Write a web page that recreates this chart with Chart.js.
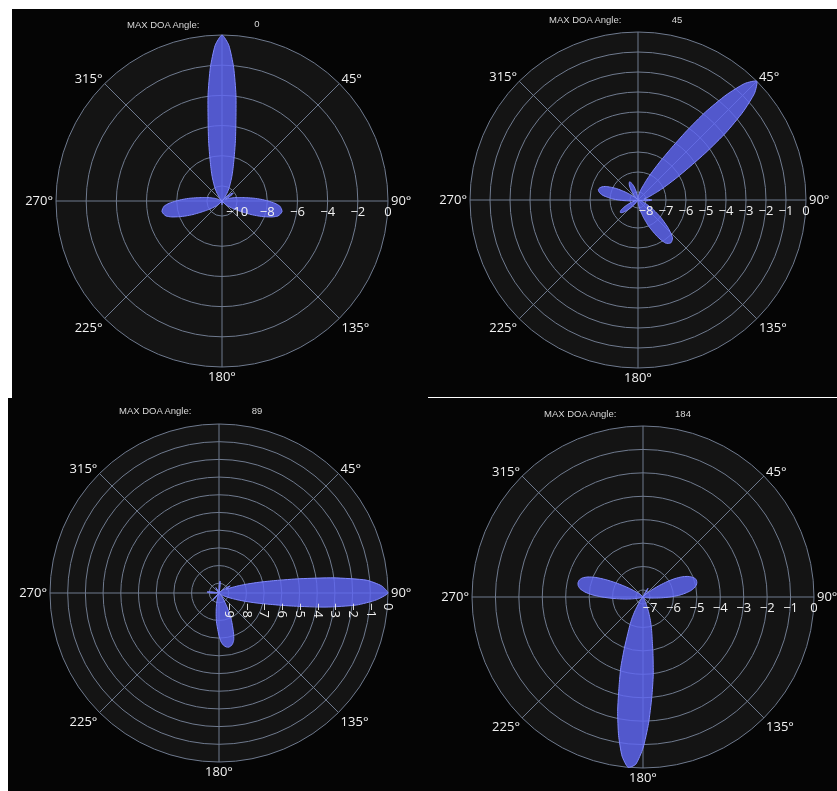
<!DOCTYPE html>
<html lang="en">
<head>
<meta charset="UTF-8" />
<title>MAX DOA Angle – beam patterns</title>
<script src="https://cdn.jsdelivr.net/npm/chart.js"></script>
<style>
  body { margin: 0; background: #fff; }
  #sheet { position: relative; width: 837px; height: 791px; overflow: hidden; background: #fff; }
  .panel { position: absolute; background: #050505; }
  .panel canvas { position: absolute; left: 0; top: 0; }
  .title { position: absolute; font: 9.5px "Liberation Sans", Arial, sans-serif; color: #d8d8d8; white-space: nowrap; line-height: 12px; }
  .value { transform: translateX(-50%); }
  #seam { position: absolute; left: 429px; top: 397px; width: 408px; height: 1px; background: #fff; }
</style>
</head>
<body>
<div id="sheet">
  <div class="panel" style="left:12px;top:9px;width:416px;height:389px"><canvas id="c1"></canvas></div>
  <div class="panel" style="left:428px;top:9px;width:409px;height:388px"><canvas id="c2"></canvas></div>
  <div class="panel" style="left:8px;top:398px;width:421px;height:393px"><canvas id="c3"></canvas></div>
  <div class="panel" style="left:429px;top:398px;width:408px;height:393px"><canvas id="c4"></canvas></div>
  <div id="seam"></div>

  <div class="title" style="left:127px;top:19px">MAX DOA Angle:</div>
  <div class="title value" id="v1" style="left:257px;top:18px"></div>
  <div class="title" style="left:549px;top:14px">MAX DOA Angle:</div>
  <div class="title value" id="v2" style="left:677px;top:14px"></div>
  <div class="title" style="left:119px;top:405px">MAX DOA Angle:</div>
  <div class="title value" id="v3" style="left:257px;top:405px"></div>
  <div class="title" style="left:544px;top:408px">MAX DOA Angle:</div>
  <div class="title value" id="v4" style="left:683px;top:408px"></div>
</div>

<script>
// angular categories, 2.5 degree steps (0 = top, clockwise)
const ANGLES = Array.from({length: 144}, (_, i) => i * 2.5);
const ANGLE_LABELS = [45, 90, 135, 180, 225, 270, 315];

const DOA = ['0', '45', '89', '184'];
const R_MIN = [-11, -8.4, -9.55, -7.3];
const TICKS_1 = [-10, -8, -6, -4, -2, 0];
const TICKS_2 = [-8, -7, -6, -5, -4, -3, -2, -1, 0];
const TICKS_3 = [-9, -8, -7, -6, -5, -4, -3, -2, -1, 0];
const TICKS_4 = [-7, -6, -5, -4, -3, -2, -1, 0];

// beam pattern (dB), one row = 30 degrees
const P1_DB = [
  0, -0.67, -2.13, -3.91, -5.7, -6.89, -7.82, -8.48, -8.95, -9.34, -9.68, -9.94,
  -10.17, -10.4, -10.6, -10.8, -10.95, -11, -10.9, -10.6, -10.35, -10.15, -10.1, -10.2,
  -10.45, -10.7, -10.74, -10.6, -10.47, -10.34, -10.14, -9.94, -9.68, -9.34, -8.88, -8.42,
  -7.95, -7.49, -7.16, -7.03, -6.96, -7.03, -7.16, -7.49, -7.95, -8.42, -8.88, -9.34,
  -9.68, -9.94, -10.14, -10.34, -10.47, -10.6, -10.74, -10.9, -11, -11, -11, -11,
  -11, -11, -11, -11, -10.9, -11, -11, -11, -11, -11, -11, -10.9,
  -10.75, -10.9, -11, -11, -11, -11, -11, -11, -10.9, -11, -11, -11,
  -11, -11, -11, -11, -11, -11, -10.74, -10.6, -10.47, -10.34, -10.14, -9.94,
  -9.68, -9.34, -8.88, -8.42, -7.95, -7.49, -7.16, -7.03, -6.96, -7.03, -7.16, -7.49,
  -7.95, -8.42, -8.88, -9.34, -9.68, -9.94, -10.14, -10.34, -10.47, -10.6, -10.74, -10.9,
  -11, -11, -11, -11, -10.85, -11, -11, -11, -11, -10.8, -10.6, -10.4,
  -10.17, -9.94, -9.68, -9.34, -8.95, -8.48, -7.82, -6.89, -5.7, -3.91, -2.13, -0.67
];
const P2_DB = [
  -8.4, -8.32, -8.25, -8.18, -8.1, -8.0, -7.9, -7.78, -7.63, -7.4, -7.1, -6.7,
  -6.15, -5.4, -4.25, -2.85, -1.55, -0.5, 0, -0.5, -1.55, -2.85, -4.25, -5.4,
  -6.15, -6.7, -7.1, -7.4, -7.63, -7.78, -7.9, -8.0, -8.1, -8.1, -7.95, -7.8,
  -7.7, -7.8, -7.95, -8.1, -8.25, -8.4, -8.33, -8.25, -8.17, -8.08, -7.98, -7.85,
  -7.7, -7.48, -7.25, -6.95, -6.7, -6.38, -6.1, -5.85, -5.75, -5.7, -5.75, -5.85,
  -6.1, -6.38, -6.7, -6.95, -7.25, -7.48, -7.7, -7.85, -7.98, -8.08, -8.17, -8.25,
  -8.33, -8.4, -8.4, -8.4, -8.4, -8.4, -8.4, -8.4, -8.4, -8.4, -8.4, -8.4,
  -8.4, -8.4, -8.32, -8.2, -8.05, -7.9, -7.75, -7.6, -7.45, -7.36, -7.32, -7.36,
  -7.45, -7.6, -7.75, -7.9, -8.05, -8.2, -8.32, -8.3, -8.2, -8.08, -7.93, -7.7,
  -7.43, -7.13, -6.88, -6.63, -6.48, -6.39, -6.35, -6.39, -6.48, -6.63, -6.88, -7.13,
  -7.43, -7.7, -7.93, -8.08, -8.2, -8.3, -8.32, -8.22, -8.1, -7.95, -7.8, -7.65,
  -7.53, -7.45, -7.4, -7.45, -7.53, -7.65, -7.8, -7.95, -8.1, -8.22, -8.32, -8.38
];
const P3_DB = [
  -9.3, -9.0, -8.87, -9.0, -9.3, -9.5, -9.55, -9.55, -9.55, -9.55, -9.55, -9.55,
  -9.55, -9.55, -9.55, -9.55, -9.55, -9.55, -9.55, -9.55, -9.45, -9.2, -8.95, -8.8,
  -8.95, -9.1, -8.93, -8.68, -8.32, -7.85, -7.2, -6.3, -4.9, -3.0, -1.2, -0.35,
  0, -0.65, -1.75, -3.45, -5.28, -6.58, -7.38, -7.97, -8.4, -8.72, -8.93, -9.1,
  -9.21, -9.3, -9.38, -9.45, -9.5, -9.55, -9.55, -9.47, -9.38, -9.28, -9.13, -8.93,
  -8.65, -8.31, -7.91, -7.57, -7.15, -6.78, -6.58, -6.48, -6.44, -6.48, -6.58, -6.78,
  -7.15, -7.57, -7.91, -8.31, -8.65, -8.93, -9.13, -9.28, -9.38, -9.47, -9.55, -9.55,
  -9.55, -9.55, -9.4, -9.15, -9.0, -9.15, -9.4, -9.55, -9.55, -9.55, -9.55, -9.55,
  -9.55, -9.55, -9.55, -9.55, -9.55, -9.55, -9.55, -9.55, -9.55, -9.55, -9.55, -9.4,
  -9.1, -8.95, -8.87, -9.0, -9.3, -9.55, -9.55, -9.55, -9.55, -9.55, -9.55, -9.55,
  -9.55, -9.55, -9.55, -9.55, -9.55, -9.55, -9.55, -9.55, -9.55, -9.55, -9.55, -9.4,
  -9.2, -9.4, -9.55, -9.55, -9.55, -9.55, -9.55, -9.55, -9.55, -9.55, -9.55, -9.45
];
const P4_DB = [
  -7.3, -7.3, -7.3, -7.3, -7.3, -7.3, -7.3, -7.3, -7.3, -7.25, -7.12, -6.97,
  -6.87, -6.97, -7.12, -7.25, -7.25, -7.2, -7.12, -7.05, -6.93, -6.72, -6.43, -6.08,
  -5.73, -5.44, -5.22, -5.06, -4.95, -4.91, -4.92, -4.97, -5.08, -5.25, -5.5, -5.78,
  -6.15, -6.5, -6.77, -6.95, -7.07, -7.14, -7.22, -7.27, -7.3, -7.3, -7.3, -7.3,
  -7.3, -7.3, -7.3, -7.3, -7.3, -7.3, -7.3, -7.3, -7.3, -7.3, -7.3, -7.27,
  -7.21, -7.13, -7.03, -6.85, -6.57, -6.25, -5.9, -5.5, -4.85, -3.95, -3.0, -1.9,
  -0.85, -0.15, 0, -0.45, -1.3, -2.3, -3.35, -4.15, -4.98, -5.6, -5.97, -6.3,
  -6.62, -6.9, -7.06, -7.15, -7.23, -7.28, -7.3, -7.3, -7.3, -7.3, -7.3, -7.3,
  -7.3, -7.3, -7.3, -7.3, -7.23, -7.17, -7.1, -7.0, -6.85, -6.62, -6.36, -5.98,
  -5.55, -5.12, -4.8, -4.59, -4.49, -4.46, -4.49, -4.59, -4.8, -5.12, -5.55, -5.98,
  -6.36, -6.62, -6.85, -7.0, -7.1, -7.17, -7.23, -7.3, -7.3, -7.3, -7.3, -7.3,
  -7.3, -7.3, -7.3, -7.3, -7.3, -7.3, -7.3, -7.3, -7.3, -7.3, -7.3, -7.3
];

const GRID = '#6f7a8e';
const LABEL_FONT = '13px "Open Sans", sans-serif';

// where each polar disc sits inside its black panel
const PANELS = [
  {id: 'c1', left: 12, top: 9, w: 416, h: 389, cx: 222, cy: 201, r: 166, data: P1_DB, min: R_MIN[0], ticks: TICKS_1, rotate: false},
  {id: 'c2', left: 428, top: 9, w: 409, h: 388, cx: 638, cy: 200, r: 168, data: P2_DB, min: R_MIN[1], ticks: TICKS_2, rotate: false},
  {id: 'c3', left: 8, top: 398, w: 421, h: 393, cx: 219, cy: 593, r: 169, data: P3_DB, min: R_MIN[2], ticks: TICKS_3, rotate: true},
  {id: 'c4', left: 429, top: 398, w: 408, h: 393, cx: 643, cy: 597, r: 171, data: P4_DB, min: R_MIN[3], ticks: TICKS_4, rotate: false}
];

const polarLabels = {
  id: 'polarLabels',
  afterDatasetsDraw(chart, args, opts) {
    const scale = chart.scales.r;
    const ctx = chart.ctx;
    ctx.save();
    ctx.font = LABEL_FONT;
    ctx.fillStyle = '#f2f2f2';
    ctx.textAlign = 'center';
    ctx.textBaseline = 'middle';

    ANGLE_LABELS.forEach(a => {
      const i = ANGLES.indexOf(a);
      const p = scale.getPointPosition(i, scale.drawingArea + 3);
      const ux = (p.x - scale.xCenter) / (scale.drawingArea + 3);
      const uy = (p.y - scale.yCenter) / (scale.drawingArea + 3);
      const text = a + '°';
      const w = ctx.measureText(text).width;
      const dx = Math.abs(ux) > 0.1 ? Math.sign(ux) * w / 2 : 0;
      const dy = uy > 0.1 ? 7.5 : uy < -0.1 ? -2 : 0;
      ctx.fillText(text, p.x + dx, p.y + dy);
    });

    // radial tick labels along the 90° spoke
    const spoke = ANGLES.indexOf(90);
    opts.ticks.forEach(v => {
      const p = scale.getPointPositionForValue(spoke, v);
      const text = v < 0 ? '\u2212' + (-v) : String(v);
      if (opts.rotate) {
        ctx.save();
        ctx.translate(p.x, p.y + 10);
        ctx.rotate(Math.PI / 2);
        ctx.textAlign = 'left';
        ctx.fillText(text, 0, 0);
        ctx.restore();
      } else {
        ctx.fillText(text, p.x, p.y + 11);
      }
    });
    ctx.restore();
  }
};

PANELS.forEach((pn, k) => {
  document.getElementById('v' + (k + 1)).textContent = DOA[k];
  const canvas = document.getElementById(pn.id);
  canvas.width = pn.w;
  canvas.height = pn.h;

  new Chart(canvas, {
    type: 'radar',
    data: {
      labels: ANGLES,
      datasets: [{
        data: pn.data,
        fill: 'start',
        backgroundColor: 'rgba(96,104,245,0.82)',
        borderColor: '#8189ff',
        borderWidth: 1,
        pointRadius: 0,
        tension: 0.2
      }]
    },
    plugins: [polarLabels],
    options: {
      responsive: false,
      animation: false,
      devicePixelRatio: 1,
      events: [],
      layout: {
        padding: {
          left: pn.cx - pn.left - pn.r,
          top: pn.cy - pn.top - pn.r,
          right: pn.left + pn.w - pn.cx - pn.r,
          bottom: pn.top + pn.h - pn.cy - pn.r
        }
      },
      plugins: {
        legend: {display: false},
        tooltip: {enabled: false},
        polarLabels: {ticks: pn.ticks, rotate: pn.rotate}
      },
      scales: {
        r: {
          min: pn.min,
          max: 0,
          startAngle: 0,
          backgroundColor: '#141414',
          afterBuildTicks: s => { s.ticks = pn.ticks.map(v => ({value: v})); },
          grid: {circular: true, color: GRID, lineWidth: 1},
          angleLines: {color: GRID, lineWidth: c => (c.index % 18 === 0 ? 1 : 0)},
          pointLabels: {display: false},
          ticks: {display: false}
        }
      }
    }
  });
});
</script>
</body>
</html>
